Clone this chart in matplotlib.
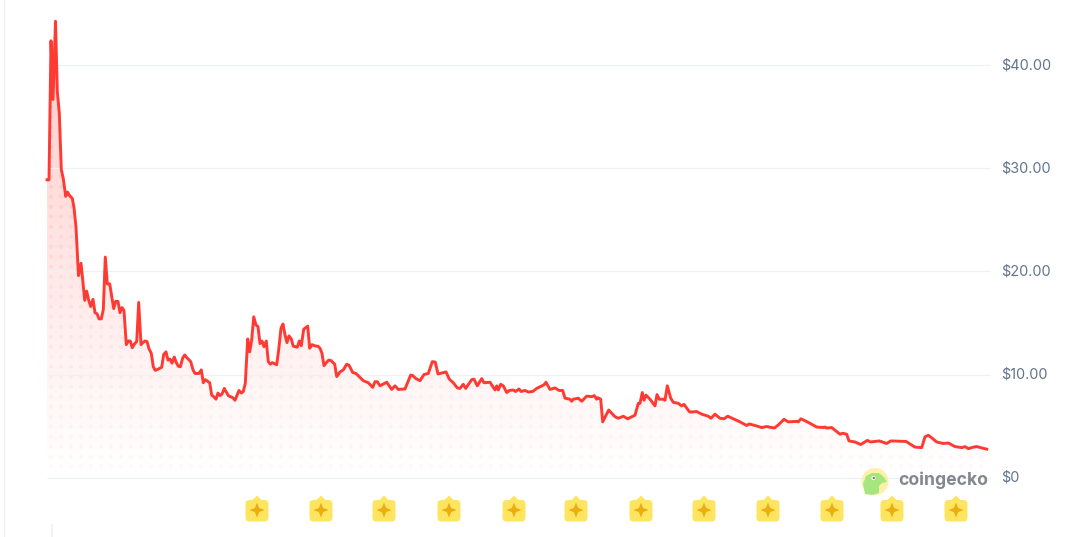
import numpy as np
import matplotlib
matplotlib.use('Agg')
from matplotlib import pyplot as plt
from matplotlib.patches import Circle, Polygon, FancyBboxPatch, PathPatch
from matplotlib.path import Path

# days since the first price, and the price in dollars
days = [0, 2, 4, 6, 8.5, 10.3, 12.3, 14.3, 16.3, 18.7, 20.7, 22.3, 25.3, 27, 29, 31.5, 34,
        35.7, 37.7, 39.7, 41.7, 43.7, 46, 48, 50, 52, 54.3, 56.3, 58.3, 60.3, 62.7, 64.7, 66.7,
        68.7, 71, 73, 75, 77, 79.3, 81.3, 83.3, 85.3, 87.7, 89.7, 91.7, 94, 96, 98, 100, 102,
        104.3, 106.3, 108.3, 110.7, 114.7, 116.7, 119, 121, 123, 125, 127.3, 129.3, 131.3, 133.3,
        135.7, 137.7, 139.7, 143.7, 146, 148, 152, 154.3, 156.3, 158.3, 162.7, 164.7, 166.7, 169,
        171, 173, 175, 177.3, 181.3, 185.7, 188, 192, 194.3, 196.3, 198.3, 200.7, 202.7, 204.7,
        206.7, 209, 211, 213, 215, 217, 219.3, 221.3, 223.3, 225.3, 229.7, 231.7, 234, 236, 238,
        240, 242, 244.3, 246.3, 250.3, 252.3, 254.3, 256.7, 258.7, 260.7, 262.7, 265, 269, 271,
        273, 275, 277, 279.7, 281.7, 284, 287.7, 289.7, 292,
        293, 296.3, 299.7, 302, 305.7, 309, 316.3, 321.3, 325.7, 328, 330.3, 333, 339.7, 344.7,
        348, 351.3, 358, 363.7, 365.7, 369, 373, 377, 381.3, 385.3, 388.3, 391, 399, 402.3, 406.3,
        410.3, 413, 416.3, 418.7, 424.7, 427, 430.3, 434.7, 437, 443, 448, 449.7, 451.3, 453.7,
        456.3, 459.7, 462.3, 466.3, 468.7, 472, 474, 478, 481.3, 485.7, 489.7, 497, 499, 503, 508,
        512, 515.7, 518, 523, 524.7, 526.3, 531.3, 534.7, 539.7, 544.7, 547.3, 549.7, 550.7, 553.7,
        555.7, 558, 561.7, 568, 571.3, 576.3, 580.7, 588, 591.3, 593, 595.3, 597, 599, 603, 608,
        610, 612.3, 616.3, 618, 620.3, 623.7, 626.3, 631.3, 634.7, 637, 642.3,
        643, 649.7, 654.7, 661.3, 664, 668, 673, 677, 680.7, 686.3, 693, 699.7, 702.3, 709.7,
        714.7, 719.7, 727.3, 731.3, 737, 741.3, 749.7, 751.3, 754, 761.3, 769.7, 776.3, 778, 779.7,
        784.7, 793, 795.7, 799.7, 802, 808, 813.7, 820.3, 823.7, 832.3, 839.7, 843.7, 859, 868,
        874.7, 878, 881.3, 884.7, 889.7, 896.3, 901.3, 908, 914.7, 918, 921.3, 926.3, 929.7, 939.7]
prices = [28.9, 28.9, 42.4, 36.7, 44.3, 37.5, 35.4, 29.9, 29, 27.3, 27.7, 27.4, 27.1, 26.2, 24.3, 19.6, 20.8,
          19.2, 17.2, 18.1, 17.2, 16.6, 17.3, 16, 15.9, 15.4, 15.4, 16.3, 21.4, 18.8, 18.8, 17.6, 16.4,
          17.1, 17.1, 16, 16.5, 16.2, 12.9, 13.25, 13.25, 12.6, 13, 13.2, 17, 12.9, 13.1, 13.25, 13.2, 12.5,
          12.05, 10.75, 10.4, 10.5, 10.7, 11.95, 12.2, 11.4, 11.5, 11.1, 11.7, 11.15, 10.8, 10.75,
          11.6, 11.9, 11.65, 11.25, 10.45, 10.1, 10.1, 10.45, 9.2, 9.5, 9.2, 8, 7.85, 7.6,
          8.2, 7.95, 8.1, 8.65, 7.95, 7.75, 7.5, 8.45, 8.2, 8.35, 9.15, 13.45, 12.2, 13.35,
          15.6, 14.8, 14.65, 13, 13.25, 12.7, 13.25, 11.25, 11, 11.15, 10.95, 12.4, 14.5, 14.9, 13.85,
          13.1, 13.75, 13.45, 12.75, 12.65, 13.25, 12.8, 14.4, 14.55, 14.7, 12.55, 12.9, 12.75, 12.75,
          12.55, 12.05, 10.85, 11.2, 11.4, 11.35, 11, 9.8, 10.1,
          10.25, 10.45, 11, 10.9, 10.2, 10.1, 9.4, 9.2, 8.75, 9.3, 9.3, 8.9, 9.25, 8.55,
          8.9, 8.55, 8.6, 9.95, 9.9, 9.6, 9.4, 10, 10.1, 11.25, 11.2, 10.05, 10.25, 9.55, 9.2,
          8.7, 8.65, 9.05, 8.65, 9.5, 9.55, 8.9, 9.6, 9.2, 9.25, 8.5, 8.9, 8.5, 9.05,
          8.9, 8.25, 8.45, 8.5, 8.35, 8.6, 8.35, 8.45, 8.3, 8.35, 8.65, 9, 9.25, 8.55, 8.7,
          8.45, 8.45, 7.7, 7.6, 7.4, 7.6, 7.7, 7.4, 7.9, 7.85, 7.95, 7.6, 7.75, 7.6, 5.4,
          5.85, 6.55, 5.9, 5.75, 5.95, 5.7, 6.05, 7.2, 7.2, 8.25, 7.5, 8, 7.6, 6.95, 8.05,
          7.6, 7.6, 7.5, 8.9, 7.7, 7.3, 7.2, 6.95, 7.1, 6.4,
          6.35, 6.4, 6.15, 5.95, 5.75, 6.15, 5.75, 5.7, 5.95, 5.7, 5.4, 5.05, 5.2, 5,
          4.85, 4.95, 4.8, 5.1, 5.65, 5.4, 5.45, 5.4, 5.7, 5.35, 4.9, 4.85, 4.9, 4.8,
          4.85, 4.2, 4.3, 4.2, 3.55, 3.45, 3.2, 3.6, 3.45, 3.55, 3.3, 3.55, 3.5, 2.95,
          2.9, 3.95, 4.1, 3.85, 3.45, 3.3, 3.35, 3, 2.9, 3, 2.8, 2.95, 3, 2.75]

y_ticks = [0, 10, 20, 30, 40]
y_labels = ['$0', '$10.00', '$20.00', '$30.00', '$40.00']
event_days = [210, 274, 337, 402, 467, 529, 594, 657, 721, 785, 845, 909]

W, H = 1075, 537
RED = '#ff3a33'
left, right = 47, 987
zero_y, px_per_dollar = 477.5, 10.3

fig = plt.figure(figsize=(W / 100, H / 100), dpi=100, facecolor='white')

ax = fig.add_axes([left / W, (H - zero_y) / H, (right - left) / W, zero_y / H])
ax.set_xlim(0, right - left)
ax.set_ylim(0, zero_y / px_per_dollar)
ax.axis('off')

# soft fill under the line, fading to nothing at the bottom
poly_x = [days[0]] + days + [days[-1]]
poly_y = [0] + prices + [0]
under = Polygon(np.column_stack([poly_x, poly_y]), closed=True, fc='none', ec='none', transform=ax.transData)
ax.add_patch(under)
top = zero_y / px_per_dollar
fade = np.zeros((256, 1, 4))
fade[..., :3] = matplotlib.colors.to_rgb(RED)
fade[:, 0, 3] = 0.30 * np.linspace(1, 0, 256) ** 1.1
img = ax.imshow(fade, extent=[0, right - left, 0, top], aspect='auto', zorder=1, interpolation='bilinear')
img.set_clip_path(under)

# dot texture over the fill
dx, dy = np.meshgrid(np.arange(4, right - left, 10), np.arange(1.05, top, 10 / px_per_dollar))
dx, dy = dx.ravel(), dy.ravel()
dot_col = np.zeros((dx.size, 4))
dot_col[:, :3] = matplotlib.colors.to_rgb(RED)
dot_col[:, 3] = 0.025 + 0.06 * dy / 30
dots = ax.scatter(dx, dy, s=9, c=dot_col, linewidths=0, zorder=2)
dots.set_clip_path(under)

for t in y_ticks:
    ax.plot([0, 943], [t, t], color='#eff0f3', lw=0.9, zorder=3, clip_on=False, solid_capstyle='butt')
ax.plot(days, prices, color=RED, lw=2.1, zorder=5, solid_joinstyle='round', clip_on=False)

for t, lab in zip(y_ticks, y_labels):
    ax.text(954.5, t - 0.03, lab, color='#64748b', fontsize=10.4, family='Inter', ha='left', va='center', clip_on=False)

# overlay in pixel coordinates for markers and logo
ov = fig.add_axes([0, 0, 1, 1], facecolor='none')
ov.set_xlim(0, W)
ov.set_ylim(H, 0)
ov.axis('off')

ov.plot([3.5, 3.5], [0, H], color='#eff0f3', lw=1)
ov.plot([52, 52], [525, H], color='#eef0f8', lw=1.2)

star = [(0, -7.5), (2.1, -2.1), (7.5, 0), (2.1, 2.1), (0, 7.5), (-2.1, 2.1), (-7.5, 0), (-2.1, -2.1), (0, -7.5)]
for d in event_days:
    cx = d + left
    ov.add_patch(FancyBboxPatch((cx - 8.5, 503), 17, 15.5, boxstyle='round,pad=3,rounding_size=4',
                                fc='#ffe55f', ec='none', zorder=6))
    ov.add_patch(Polygon([(cx - 5, 500.5), (cx, 495.5), (cx + 5, 500.5)], closed=True, fc='#ffe55f', ec='none', zorder=6))
    ov.add_patch(Polygon([(cx + a, 510 + b) for a, b in star], closed=True, fc='#e9ae10', ec='none', zorder=7))

# logo
ov.add_patch(Circle((875, 481.5), 13.5, fc='#fdf1a9', ec='none', zorder=6))
gecko = Path([(865, 494), (863, 484), (866, 476), (872, 473), (879, 473), (884, 477), (887, 482), (882, 483),
              (879, 486), (879, 493), (872, 495), (865, 494)], closed=False)
ov.add_patch(PathPatch(gecko, fc='#a7e67e', ec='none', zorder=7))
ov.add_patch(Circle((873.5, 478), 2.1, fc='white', ec='none', zorder=8))
ov.add_patch(Circle((873.8, 478), 1.2, fc='#777777', ec='none', zorder=9))
ov.text(898, 480, 'coingecko', color='#84878e', fontsize=12.6, fontweight='bold', family='Inter',
        ha='left', va='center', zorder=8)

fig.savefig('out.png', dpi=100)
